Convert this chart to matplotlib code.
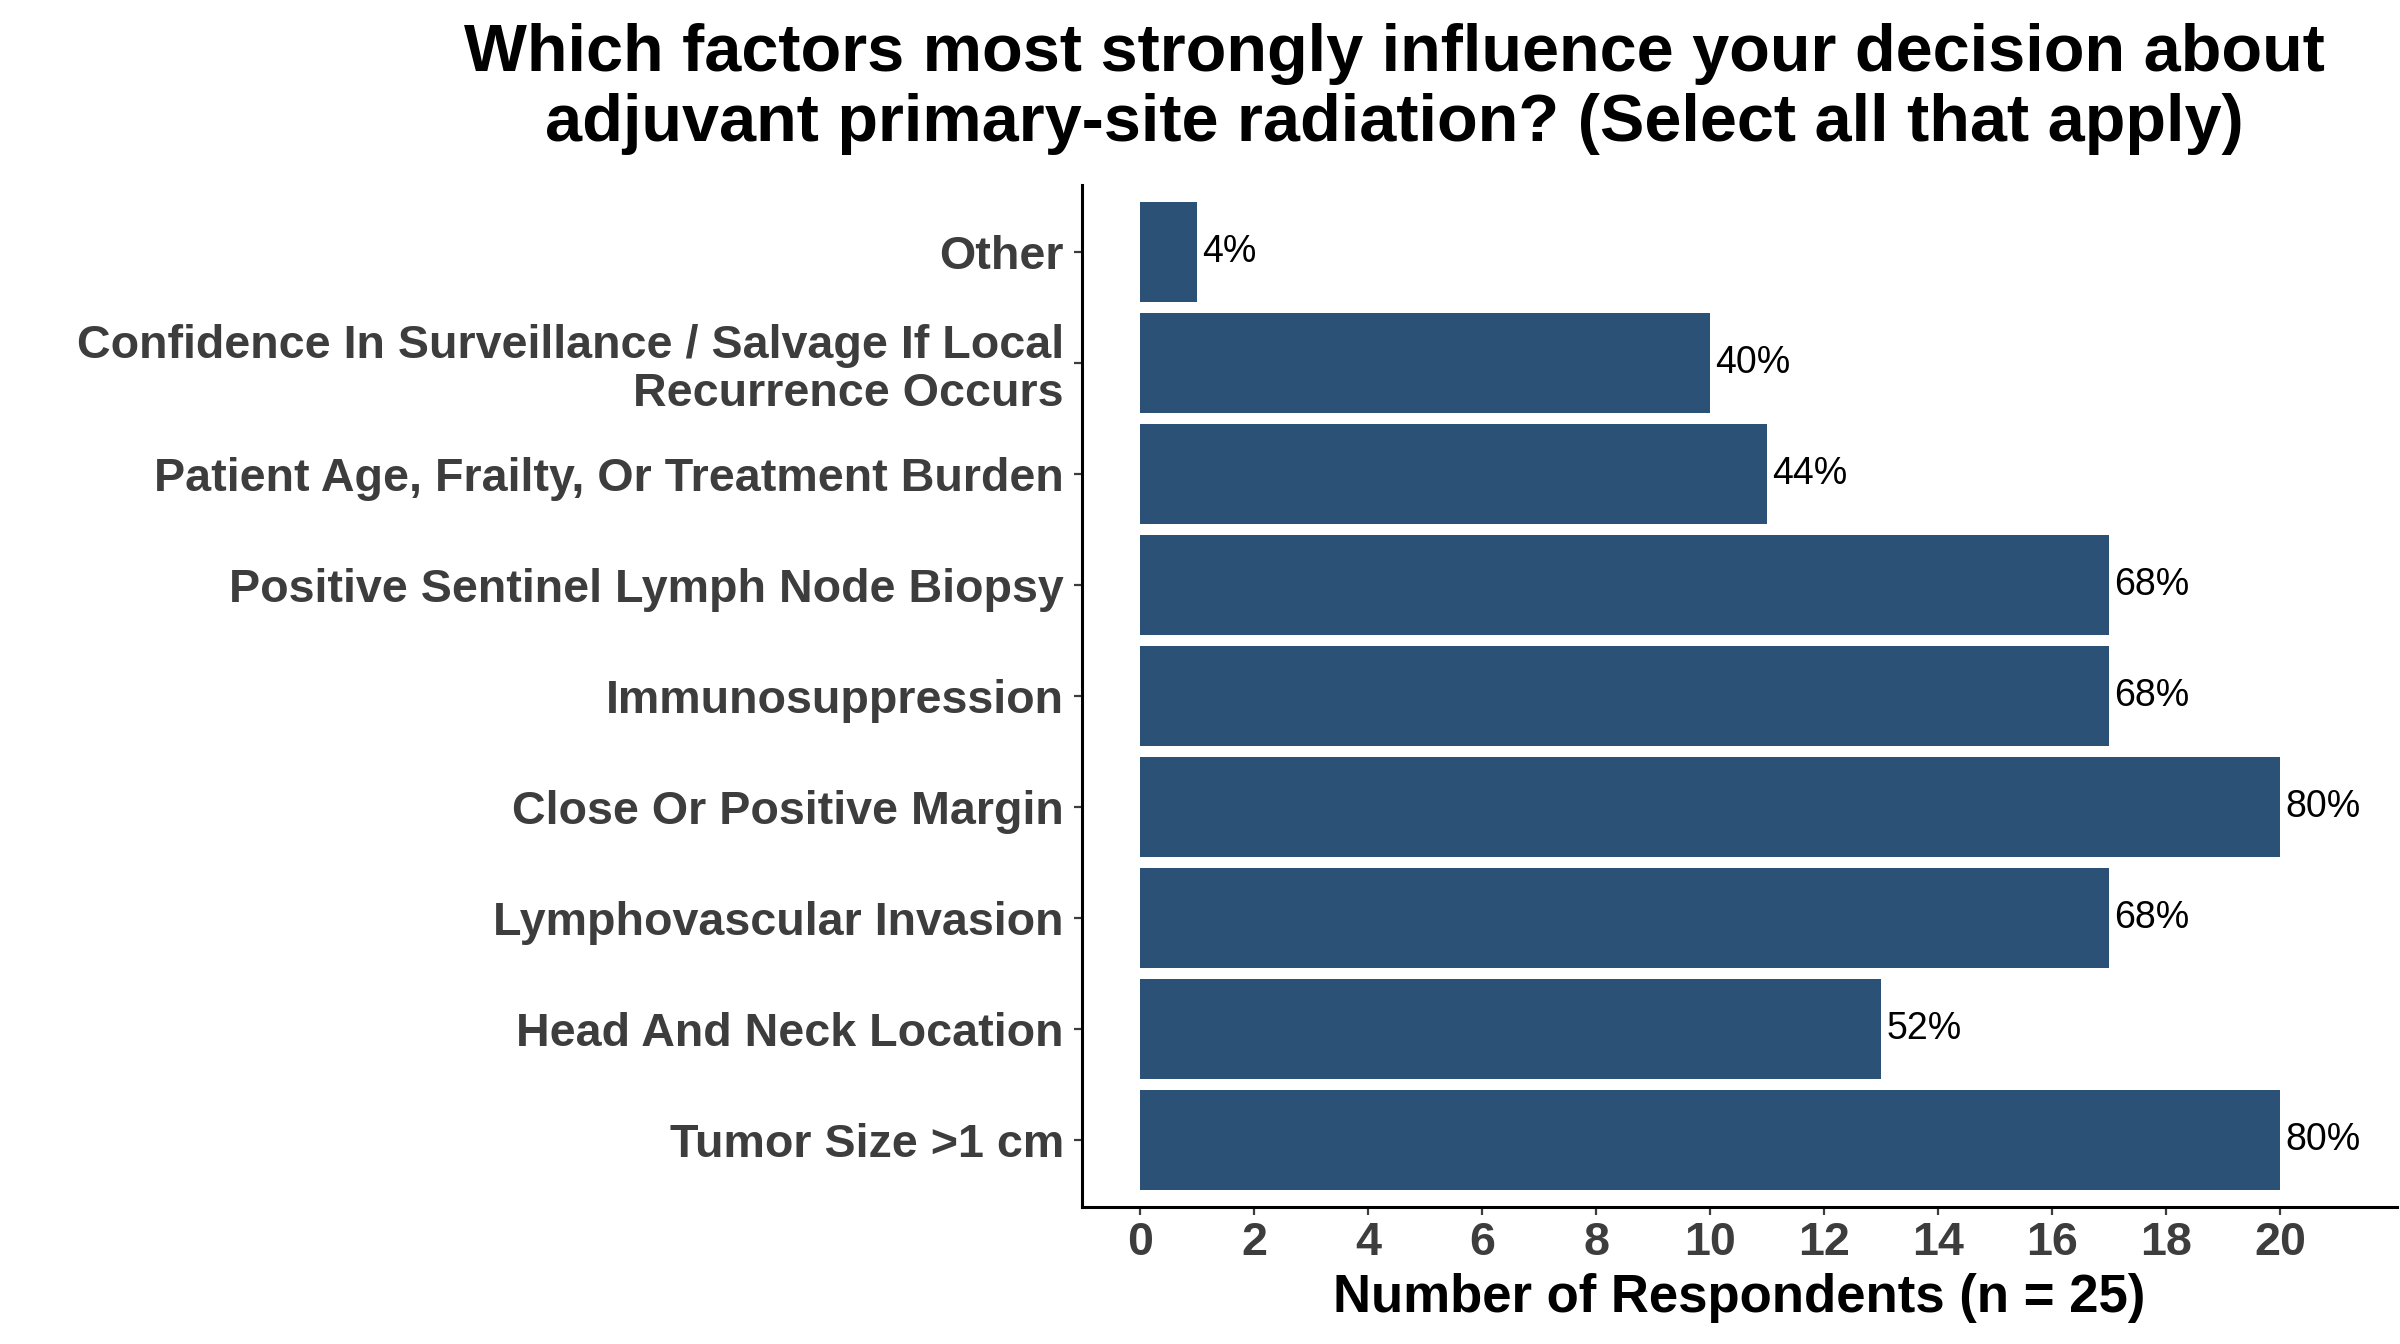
import matplotlib
matplotlib.use("Agg")
import matplotlib.pyplot as plt

plt.rcParams['font.family'] = ['Liberation Sans', 'DejaVu Sans']

# survey answers, bottom to top as drawn
factors = ["Tumor Size >1 cm",
           "Head And Neck Location",
           "Lymphovascular Invasion",
           "Close Or Positive Margin",
           "Immunosuppression",
           "Positive Sentinel Lymph Node Biopsy",
           "Patient Age, Frailty, Or Treatment Burden",
           "Confidence In Surveillance / Salvage If Local\nRecurrence Occurs",
           "Other"]
counts = [20, 13, 17, 20, 17, 17, 11, 10, 1]
n_total = 25
xticks = list(range(0, 21, 2))

bar_color = "#2c5177"
grey = "#3d3d3d"

fig = plt.figure(figsize=(12, 6.72), dpi=200)
ax = fig.add_axes([0.4508, 0.1019, 0.548, 0.7604])

y = range(len(factors))
ax.barh(y, counts, height=0.9, color=bar_color)

for yi, c in zip(y, counts):
    pct = round(c / n_total * 100)
    ax.text(c + 0.09, yi, f"{pct}%", va="center", ha="left",
            fontsize=13.5, color="black")

ax.set_yticks(list(y))
ax.set_yticklabels(factors, fontsize=16.8, fontweight="bold", color=grey,
                   linespacing=1.12)
ax.set_xticks(xticks)
ax.set_xticklabels([str(t) for t in xticks], fontsize=16.8,
                   fontweight="bold", color=grey)
ax.set_xlim(-1.02, 22.05)
ax.set_ylim(-0.6, len(factors) - 0.4)

ax.set_xlabel("Number of Respondents (n = 25)", fontsize=19,
              fontweight="bold", color="black", labelpad=3)

for side in ["top", "right"]:
    ax.spines[side].set_visible(False)
for side in ["left", "bottom"]:
    ax.spines[side].set_linewidth(1.1)
    ax.spines[side].set_color("black")
ax.tick_params(axis="y", length=3, width=0.8, color=grey, pad=3.5)
ax.tick_params(axis="x", length=3, width=0.8, color=grey, pad=2)

fig.text(0.581, 0.983,
         "Which factors most strongly influence your decision about\n"
         "adjuvant primary-site radiation? (Select all that apply)",
         ha="center", va="top", fontsize=24, fontweight="bold",
         color="black", linespacing=1.16)

fig.savefig("out.png", dpi=200)
